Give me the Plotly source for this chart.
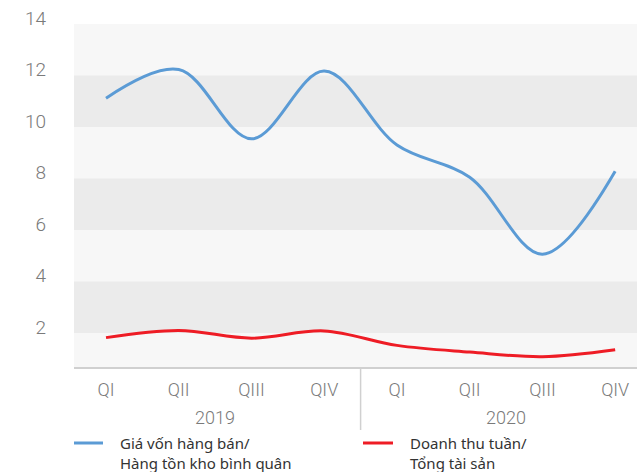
import plotly.graph_objects as go

quarters = ["QI", "QII", "QIII", "QIV", "QI", "QII", "QIII", "QIV"]
years = ["2019", "2020"]
year_centers = [1.5, 5.5]
positions = list(range(len(quarters)))
inventory_turnover = [11.12, 12.23, 9.54, 12.17, 9.3, 8.05, 5.06, 8.28]
asset_turnover = [1.82, 2.1, 1.8, 2.08, 1.52, 1.26, 1.08, 1.35]
y_ticks = [2, 4, 6, 8, 10, 12, 14]
name_blue = "Giá vốn hàng bán/<br>Hàng tồn kho bình quân"
name_red = "Doanh thu tuần/<br>Tổng tài sản"
blue = "#5b9bd5"
red = "#ee1c25"

# pixel helpers for the plot area (l=74, r=637, t=24, b=367)
PL, PR, PT, PB = 74, 637, 24, 367
def px(x):
    return (x - PL) / (PR - PL)
def py(y):
    return (PB - y) / (PB - PT)

tick_font = dict(size=18, color="#7a7a7a", family="Roboto", weight=300)

fig = go.Figure()
fig.add_trace(go.Scatter(x=positions, y=inventory_turnover, mode="lines",
                         line=dict(color=blue, width=3, shape="spline", smoothing=1),
                         name=name_blue, showlegend=False))
fig.add_trace(go.Scatter(x=positions, y=asset_turnover, mode="lines",
                         line=dict(color=red, width=3, shape="spline", smoothing=1),
                         name=name_red, showlegend=False))

for lo, hi in [(2, 4), (6, 8), (10, 12)]:
    fig.add_shape(type="rect", xref="paper", yref="y", x0=0, x1=1, y0=lo, y1=hi,
                  fillcolor="#ebebeb", line_width=0, layer="below")

# year divider
fig.add_shape(type="line", xref="x", yref="paper", x0=3.5, x1=3.5, y0=0, y1=py(430),
              line=dict(color="#d0d0d0", width=1.5))

# year labels
for yr, c in zip(years, year_centers):
    fig.add_annotation(x=c, xref="x", y=py(417), yref="paper", text=yr, showarrow=False,
                       font=tick_font, xanchor="center", yanchor="middle")

# legend drawn manually
for (x0, x1, tx, txt, col) in [(74, 103, 118, name_blue, blue), (363, 393, 408, name_red, red)]:
    fig.add_shape(type="line", xref="paper", yref="paper", x0=px(x0), x1=px(x1),
                  y0=py(443), y1=py(443), line=dict(color=col, width=3))
    fig.add_annotation(x=px(tx), xref="paper", y=py(453), yref="paper", text=txt,
                       showarrow=False, align="left", xanchor="left", yanchor="middle",
                       font=dict(size=15, color="#333333", family="Noto Sans"))

fig.update_layout(
    width=637, height=472,
    margin=dict(l=PL, r=637 - PR, t=PT, b=472 - PB),
    paper_bgcolor="white", plot_bgcolor="#f7f7f7",
    font=dict(family="Roboto", color="#7a7a7a"),
    showlegend=False,
    xaxis=dict(range=[-0.44, 7.30], tickvals=positions, ticktext=quarters,
               showgrid=False, zeroline=False,
               showline=True, linecolor="#d0d0d0", linewidth=2,
               tickfont=tick_font, ticks="",
               ticklabelstandoff=5),
    yaxis=dict(range=[0.68, 14], tickvals=y_ticks, showgrid=False, zeroline=False,
               showline=False, tickfont=dict(tick_font, size=19),
               ticklabelstandoff=27, ticklabelshift=-6),
)
fig.write_html("out.html")
